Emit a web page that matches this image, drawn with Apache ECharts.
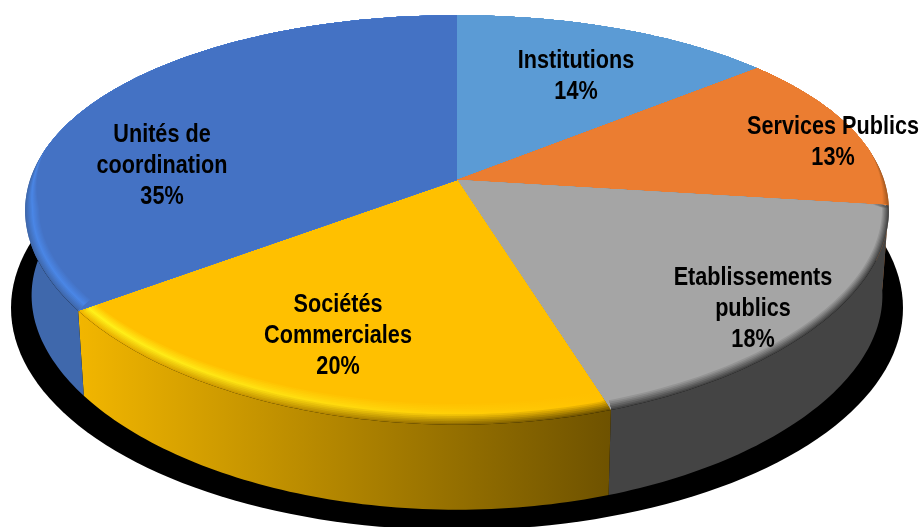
<!DOCTYPE html>
<html>
<head>
<meta charset="utf-8">
<style>html,body{margin:0;padding:0;background:#fff}#c{width:921px;height:527px}</style>
<script src="https://cdn.jsdelivr.net/npm/echarts@6/dist/echarts.min.js"></script>
</head>
<body>
<div id="c"></div>
<script>
// data
var categories = ['Institutions', 'Services Publics', 'Etablissements\npublics', 'Sociétés\nCommerciales', 'Unités de\ncoordination'];
var shares = [14, 13, 18, 20, 35];

// styling, by slice
var topColors  = ['#5B9BD5', '#EB7D31', '#A5A5A5', '#FFC000', '#4472C4'];
var midLeft    = ['#5B9BD5', '#EB7D31', '#A5A5A5', '#FFF21A', '#4A86E6'];
var midRight   = ['#5B9BD5', '#EB7D31', '#A5A5A5', '#FFC000', '#4A86E6'];
var sideLeft   = ['#4A7FAE', '#A85A20', '#444444', '#F2B600', '#3F68AC'];
var sideRight  = ['#4A7FAE', '#A85A20', '#444444', '#6E5200', '#3F68AC'];
var labelCenters = [[576, 77], [833, 143], [753, 309], [338, 336], [162, 166]];

// geometry of the tilted disc (a perspective view of a circle)
var CX = 457, APEX_Y = 180, A = 427, B = 197, KX = 0.15, KY = 0.195;
var DEPTH = 85, BOTTOM_SCALE = 0.985;
var BEVEL_X = 0.032, BEVEL_Y = 0.085, BEVEL_STEPS = 12;

var total = shares.reduce(function (a, b) { return a + b; }, 0);
function startOf(i) {
  var s = 0;
  for (var j = 0; j < i; j++) s += shares[j];
  return s / total * Math.PI * 2;
}
function project(theta, sx, sy, dy) {
  var u = Math.sin(theta), v = -Math.cos(theta);
  return [CX + A * u / (1 - KX * v) * sx, APEX_Y + dy + B * v / (1 - KY * v) * sy];
}
function arc(i, fn) {
  var a0 = startOf(i), a1 = a0 + shares[i] / total * Math.PI * 2, pts = [];
  var n = Math.max(2, Math.round((a1 - a0) / (Math.PI / 180)));
  for (var k = 0; k <= n; k++) pts.push(fn(a0 + (a1 - a0) * k / n));
  return pts;
}
function cross(e, p) {
  return (e[0] - CX) * (p[1] - APEX_Y) - (e[1] - APEX_Y) * (p[0] - CX);
}
function onRadial(e, y) {
  return CX + (e[0] - CX) * (y - APEX_Y) / (e[1] - APEX_Y);
}
// keep a bevel point inside the wedge bounded by the two rim corners
function clampToWedge(p, first, last) {
  if (cross(first, p) < 0) return [onRadial(first, p[1]), p[1]];
  if (cross(last, p) > 0) return [onRadial(last, p[1]), p[1]];
  return p;
}
function hex(c) { return [1, 3, 5].map(function (p) { return parseInt(c.substr(p, 2), 16); }); }
function mix(c1, c2, t) {
  var a = hex(c1), b = hex(c2);
  return 'rgb(' + a.map(function (x, i) { return Math.round(x + (b[i] - x) * t); }).join(',') + ')';
}
function hGrad(c1, c2) {
  return { type: 'linear', x: 0, y: 0, x2: 1, y2: 0, colorStops: [{ offset: 0, color: c1 }, { offset: 1, color: c2 }] };
}
function level(i, s, pal) {
  // s = 1 at the outer rim, 0 on the flat top
  var mid = pal === 0 ? midLeft[i] : midRight[i];
  var side = pal === 0 ? sideLeft[i] : sideRight[i];
  if (s < 0.5) return mix(topColors[i], mid, s / 0.5);
  return mix(mid, side, (s - 0.5) / 0.5);
}

var option = {
  animation: false,
  backgroundColor: '#ffffff',
  series: [
    {
      type: 'custom', coordinateSystem: 'none', z: 1, silent: true, data: [total],
      renderItem: function () {
        var pts = [];
        for (var d = 0; d < 360; d += 2) {
          var t = d * Math.PI / 180;
          pts.push([CX + 446 * Math.sin(t), 308 - 222 * Math.cos(t)]);
        }
        return { type: 'polygon', shape: { points: pts }, style: { fill: '#000' } };
      }
    },
    {
      type: 'custom', coordinateSystem: 'none', z: 2, silent: true, data: shares,
      renderItem: function (params) {
        var i = params.dataIndex;
        var rim = arc(i, function (t) { return project(t, 1, 1, 0); });
        var bot = arc(i, function (t) { return project(t, BOTTOM_SCALE, 1, DEPTH); }).reverse();
        return { type: 'polygon', shape: { points: rim.concat(bot) }, style: { fill: hGrad(sideLeft[i], sideRight[i]) } };
      }
    },
    {
      type: 'custom', coordinateSystem: 'none', z: 3, silent: true, data: shares,
      renderItem: function (params) {
        var i = params.dataIndex, kids = [];
        var outer = arc(i, function (t) { return project(t, 1, 1, 0); });
        var first = outer[0], last = outer[outer.length - 1];
        for (var k = 0; k <= BEVEL_STEPS; k++) {
          var s = 1 - k / BEVEL_STEPS;
          var inner = arc(i, function (t) {
            var v = -Math.cos(t);
            var f = Math.max(0, Math.min(1, (v + 0.15) / 0.3));
            var inset = (1 - s) * f;
            var p = project(t, 1 - BEVEL_X * inset, 1 - BEVEL_Y * inset, 0);
            return clampToWedge(p, first, last);
          });
          var pts = [[CX, APEX_Y], first].concat(inner, [last]);
          kids.push({ type: 'polygon', shape: { points: pts }, style: { fill: hGrad(level(i, s, 0), level(i, s, 1)) } });
        }
        return { type: 'group', children: kids };
      }
    },
    {
      type: 'custom', coordinateSystem: 'none', z: 4, silent: true, data: shares,
      renderItem: function (params) {
        var i = params.dataIndex, c = labelCenters[i];
        return {
          type: 'text',
          x: c[0], y: c[1], scaleX: 0.865,
          style: {
            text: categories[i] + '\n' + shares[i] + '%',
            x: 0, y: 0, align: 'center', verticalAlign: 'middle',
            fill: '#000', lineHeight: 31,
            font: 'bold 25px "Liberation Sans", Arial, sans-serif'
          }
        };
      }
    }
  ]
};
echarts.init(document.getElementById('c')).setOption(option);
</script>
</body>
</html>
